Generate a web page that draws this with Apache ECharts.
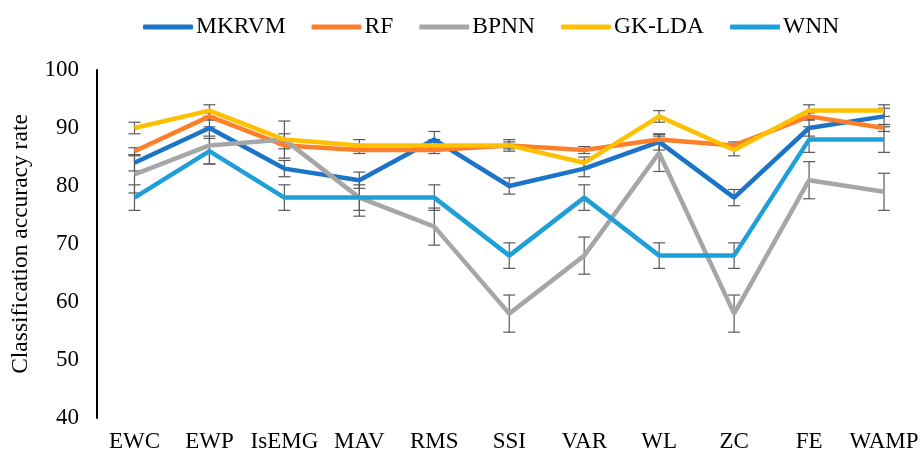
<!DOCTYPE html>
<html>
<head>
<meta charset="utf-8">
<script src="https://cdn.jsdelivr.net/npm/echarts@6/dist/echarts.min.js"></script>
<style>
html,body{margin:0;padding:0;background:#fff;}
#c{width:923px;height:459px;}
</style>
</head>
<body>
<div id="c"></div>
<script>
const categories = ['EWC','EWP','IsEMG','MAV','RMS','SSI','VAR','WL','ZC','FE','WAMP'];
const seriesNames = ['MKRVM','RF','BPNN','GK-LDA','WNN'];
const mkrvm = [84,90,83,81,88,80,83,87.6,78,90,92];
const rf    = [86,92,87,86.2,86.2,87,86.2,88,87,92,90];
const bpnn  = [82,87,88,78,73,58,68,85.7,58,81,79];
const gklda = [90,93,88,87,87,87,84,92,86.2,93,93];
const wnn   = [78,86,78,78,78,68,78,68,68,88,88];
// error bar half-lengths
const mkrvmErr = [1.4,1.4,1.4,1.4,1.4,1.4,1.4,1.4,1.4,1.4,1.4];
const rfErr    = [0.6,0.6,0.6,0.6,0.6,0.6,0.6,0.6,0.6,0.6,0.6];
const bpnnErr  = [3.2,3.2,3.2,3.2,3.2,3.2,3.2,3.2,3.2,3.2,3.2];
const gkldaErr = [1.0,1.0,1.0,1.0,1.0,1.0,1.0,1.0,1.0,1.0,1.0];
const wnnErr   = [2.2,2.2,2.2,2.2,2.2,2.2,2.2,2.2,2.2,2.2,2.2];
const yTicks = [40,50,60,70,80,90,100];

const values = [mkrvm, rf, bpnn, gklda, wnn];
const errs = [mkrvmErr, rfErr, bpnnErr, gkldaErr, wnnErr];
const colors = ['#1b74c8','#fd7f2a','#a6a6a6','#ffc000','#1f9fd8'];
const font = '"Liberation Serif","Times New Roman",serif';

const series = [];
values.forEach((vals, i) => {
  series.push({
    type: 'custom',
    name: seriesNames[i] + '_err',
    z: 1,
    silent: true,
    data: vals.map((v, k) => [k, v - errs[i][k], v + errs[i][k]]),
    renderItem: function (params, api) {
      const lo = api.coord([api.value(0), api.value(1)]);
      const hi = api.coord([api.value(0), api.value(2)]);
      const w = 6;
      const st = {stroke: '#595959', lineWidth: 1.2};
      return {
        type: 'group',
        children: [
          {type: 'line', shape: {x1: lo[0], y1: lo[1], x2: hi[0], y2: hi[1]}, style: st},
          {type: 'line', shape: {x1: lo[0]-w, y1: lo[1], x2: lo[0]+w, y2: lo[1]}, style: st},
          {type: 'line', shape: {x1: hi[0]-w, y1: hi[1], x2: hi[0]+w, y2: hi[1]}, style: st}
        ]
      };
    }
  });
});
values.forEach((vals, i) => {
  series.push({
    type: 'line',
    name: seriesNames[i],
    data: vals,
    z: 2 + i,
    symbol: 'none',
    lineStyle: {width: 4.5, color: colors[i]},
    itemStyle: {color: colors[i]}
  });
});

const chart = echarts.init(document.getElementById('c'));
chart.setOption({
  animation: false,
  backgroundColor: '#fff',
  grid: {left: 97, right: 1.5, top: 70, bottom: 41, containLabel: false},
  legend: {
    data: seriesNames,
    left: 138,
    top: 10,
    icon: 'roundRect',
    itemWidth: 50,
    itemHeight: 5,
    itemGap: 26,
    textStyle: {fontFamily: font, fontSize: 23.5, color: '#000', padding: [0,0,0,-2]}
  },
  xAxis: {
    type: 'category',
    data: categories,
    boundaryGap: true,
    axisLine: {show: false},
    axisTick: {show: false},
    axisLabel: {fontFamily: font, fontSize: 23, color: '#000', margin: 12, interval: 0}
  },
  yAxis: {
    type: 'value',
    min: yTicks[0],
    max: yTicks[yTicks.length-1],
    interval: 10,
    name: 'Classification accuracy rate',
    nameLocation: 'middle',
    nameRotate: 90,
    nameGap: 64,
    nameTextStyle: {fontFamily: font, fontSize: 23.5, color: '#000'},
    axisLine: {show: true, lineStyle: {color: '#000', width: 2}},
    axisTick: {show: false},
    splitLine: {show: false},
    axisLabel: {fontFamily: font, fontSize: 23, color: '#000', margin: 18}
  },
  series: series
});
</script>
</body>
</html>
